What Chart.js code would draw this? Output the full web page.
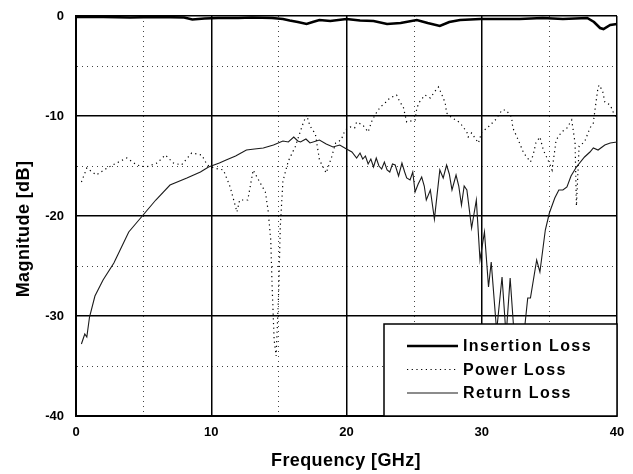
<!DOCTYPE html>
<html lang="en">
<head>
    <meta charset="UTF-8">
    <title>Magnitude vs Frequency</title>
    <script src="https://cdn.jsdelivr.net/npm/chart.js"></script>
    <style>
        html, body { margin: 0; padding: 0; background: #fff; }
        #wrap { width: 633px; height: 474px; }
    </style>
</head>
<body>
    <div id="wrap"><canvas id="magChart" width="633" height="474"></canvas></div>

    <script>
        // === 데이터 ===
        const seriesNames = ["Insertion Loss", "Power Loss", "Return Loss"];

        const insFreq = [0, 2, 4, 6, 8, 8.6, 9.5, 10.5, 12, 13, 14.5, 15.3, 15.8, 16.4, 17.05, 17.5, 18.0, 18.8,
            20.0, 21.0, 22.0, 23.0, 24.0, 25.2, 26.0, 26.9, 27.6, 28.4, 29.9, 31.0, 32.8, 34.5, 36.0, 37.8, 38.3, 38.75,
            39.0, 39.5, 40];
        const insLoss = [-0.1, -0.1, -0.15, -0.1, -0.15, -0.35, -0.25, -0.2, -0.2, -0.15, -0.2, -0.3, -0.45, -0.6, -0.8, -0.6, -0.4, -0.5,
            -0.3, -0.45, -0.5, -0.8, -0.7, -0.4, -0.7, -1.0, -0.6, -0.4, -0.3, -0.3, -0.3, -0.2, -0.3, -0.2, -0.6, -1.2,
            -1.3, -0.9, -0.8];

        const pwrFreq = [0.4, 0.8, 1.5, 2.3, 3.0, 3.75, 4.5, 5.2, 6.0, 6.6, 7.2, 7.8, 8.55, 9.3, 9.7, 10.2, 10.9, 11.4,
            11.9, 12.1, 12.7, 13.1, 13.5, 14.0, 14.2, 14.4, 14.5, 14.65, 14.8, 15.0, 15.1, 15.3, 15.7, 16.2, 16.8, 17.05,
            17.3, 17.7, 18.0, 18.5, 18.9, 19.2, 19.6, 19.9, 20.3, 20.6, 20.75, 21.2, 21.6, 21.9, 22.2, 22.5, 22.85, 23.2,
            23.7, 23.95, 24.2, 24.45, 25.07, 25.2, 25.4, 25.8, 26.2, 26.5, 26.8, 27.0, 27.3, 27.4, 27.8, 28.1, 28.4, 28.9,
            29.0, 29.25, 29.5, 29.75, 30.0, 30.4, 31.0, 31.5, 31.8, 32.2, 32.3, 32.7, 33.1, 33.6, 33.8, 34.0, 34.3, 34.55,
            35.0, 35.2, 35.5, 35.9, 36.3, 36.65, 36.9, 37.0, 37.2, 37.6, 38.0, 38.25, 38.4, 38.6, 38.7, 38.95, 39.1, 39.5,
            39.75, 40.0];
        const pwrLoss = [-16.6, -15.2, -15.9, -15.2, -14.7, -14.2, -14.9, -15.1, -14.7, -13.9, -14.7, -14.9, -13.7, -13.9, -14.9, -15.2, -15.4, -17.1,
            -19.6, -18.4, -18.4, -15.4, -16.4, -17.6, -19.4, -22.4, -27.0, -32.4, -34.0, -27.0, -21.2, -16.5, -14.5, -13.1, -10.7, -9.9,
            -11.0, -11.8, -14.4, -15.7, -14.1, -12.7, -12.4, -11.4, -11.1, -11.2, -10.6, -10.9, -11.6, -10.4, -9.7, -9.1, -8.7, -8.2,
            -7.9, -8.6, -9.1, -10.6, -10.4, -9.2, -8.6, -7.9, -8.2, -7.6, -7.1, -7.7, -8.7, -9.7, -10.2, -10.4, -10.7, -11.6,
            -12.1, -11.7, -12.2, -12.7, -11.6, -11.2, -10.4, -9.4, -9.4, -10.1, -11.2, -12.4, -13.7, -14.6, -13.9, -12.7, -12.1, -13.4,
            -14.7, -15.4, -12.4, -11.6, -11.2, -10.4, -12.7, -19.0, -13.0, -12.6, -11.2, -10.7, -9.1, -7.1, -6.9, -7.6, -8.6, -8.9,
            -9.7, -10.2];

        const retFreq = [0.4, 0.65, 0.8, 1.0, 1.4, 2.0, 2.8, 3.9, 4.9, 5.9, 6.95, 8.2, 9.2, 9.8, 10.6, 11.1, 11.8, 12.6,
            13.2, 13.85, 14.6, 15.3, 15.7, 16.1, 16.4, 16.6, 17.0, 17.3, 18.0, 18.5, 19.0, 19.5, 20.0, 20.4, 20.75, 21.0, 21.2,
            21.4, 21.6, 21.8, 22.0, 22.2, 22.4, 22.6, 22.8, 23.0, 23.2, 23.4, 23.6, 23.85, 24.1, 24.3, 24.45, 24.7, 24.9, 25.07,
            25.3, 25.56, 25.75, 25.9, 26.2, 26.5, 26.9, 27.15, 27.4, 27.6, 27.8, 28.1, 28.3, 28.5, 28.7, 28.9, 29.25, 29.6,
            29.87, 30.2, 30.5, 30.7, 31.1, 31.5, 31.8, 32.1, 32.4, 32.8, 33.2, 33.4, 33.6, 34.06, 34.3, 34.7, 35.0, 35.4,
            35.7, 36.0, 36.3, 36.6, 37.0, 37.6, 38.0, 38.25, 38.6, 39.1, 39.5, 40.0];
        const retLoss = [-32.8, -31.8, -32.1, -30.1, -28.0, -26.4, -24.7, -21.6, -20.0, -18.4, -16.9, -16.2, -15.6, -15.1, -14.7, -14.4, -14.0, -13.4,
            -13.3, -13.2, -12.9, -12.5, -12.6, -12.1, -12.5, -12.6, -12.3, -12.7, -12.4, -12.8, -13.1, -12.9, -13.3, -13.6, -14.2, -13.7, -14.3,
            -14.0, -14.8, -14.3, -15.1, -14.2, -15.0, -15.3, -14.6, -15.4, -15.6, -14.8, -14.9, -16.0, -14.7, -15.6, -16.2, -16.4, -15.6, -17.6,
            -16.8, -16.1, -17.0, -18.4, -17.4, -20.3, -15.4, -16.2, -14.9, -15.8, -17.4, -15.9, -17.0, -18.9, -17.0, -17.4, -21.2, -18.4,
            -24.4, -21.6, -27.1, -24.6, -31.5, -26.1, -32.0, -26.2, -32.0, -34.0, -30.8, -28.2,
            -28.2, -24.4, -25.6, -21.4, -19.7, -18.2, -17.4, -17.4, -17.1, -16.0, -15.1, -14.1, -13.6, -13.2, -13.4, -12.9, -12.7, -12.6];

        // 축 눈금
        const xTicks = [0, 10, 20, 30, 40];
        const yTicks = [0, -10, -20, -30, -40];

        const FONT = "'Liberation Sans', Arial, sans-serif";
        const toPoints = (xs, ys) => xs.map((x, i) => ({ x: x, y: ys[i] }));

        // 범례와 축 제목을 직접 그리는 플러그인
        const extras = {
            id: "extras",
            afterDraw(chart) {
                const ctx = chart.ctx;
                const ds = chart.data.datasets;
                ctx.save();

                // 범례 박스
                const bx = 384, by = 324, bw = 233, bh = 92;
                ctx.fillStyle = "#fff";
                ctx.fillRect(bx, by, bw, bh);
                ctx.strokeStyle = "#000";
                ctx.lineWidth = 1.5;
                ctx.strokeRect(bx, by, bw, bh);

                ctx.font = "bold 16px " + FONT;
                ctx.letterSpacing = "1.4px";
                ctx.textBaseline = "middle";
                ctx.textAlign = "left";
                ds.forEach((d, i) => {
                    const y = 346 + i * 23.5;
                    ctx.beginPath();
                    ctx.setLineDash(d.borderDash || []);
                    ctx.lineWidth = d.borderWidth;
                    ctx.strokeStyle = d.borderColor;
                    ctx.moveTo(407, y);
                    ctx.lineTo(458, y);
                    ctx.stroke();
                    ctx.setLineDash([]);
                    ctx.fillStyle = "#000";
                    ctx.fillText(d.label, 463, y + 1);
                });

                // 축 제목
                ctx.font = "bold 18px " + FONT;
                ctx.letterSpacing = "0.4px";
                ctx.textAlign = "center";
                ctx.fillText("Frequency [GHz]", 346, 461);
                ctx.translate(24, 229);
                ctx.rotate(-Math.PI / 2);
                ctx.fillText("Magnitude [dB]", 0, 0);
                ctx.restore();
            }
        };

        const gridColor = c => (c.tick && c.tick.value % 10 !== 0) ? "#444" : "#000";
        const gridWidth = c => (c.tick && c.tick.value % 10 !== 0) ? 1 : 1.5;
        const gridDash = c => (c.tick && c.tick.value % 10 !== 0) ? [1, 4] : [];

        new Chart(document.getElementById("magChart"), {
            type: "line",
            data: {
                datasets: [{
                    label: seriesNames[0],
                    data: toPoints(insFreq, insLoss),
                    borderColor: "#000",
                    borderWidth: 2.6,
                    pointRadius: 0,
                    tension: 0
                }, {
                    label: seriesNames[1],
                    data: toPoints(pwrFreq, pwrLoss),
                    borderColor: "#000",
                    borderWidth: 1.2,
                    borderDash: [1.2, 3.5],
                    pointRadius: 0,
                    tension: 0
                }, {
                    label: seriesNames[2],
                    data: toPoints(retFreq, retLoss),
                    borderColor: "#1a1a1a",
                    borderWidth: 1.1,
                    pointRadius: 0,
                    tension: 0
                }]
            },
            options: {
                responsive: false,
                animation: false,
                layout: { padding: { top: 16, right: 16, left: 0, bottom: 0 } },
                plugins: { legend: { display: false }, tooltip: { enabled: false } },
                scales: {
                    x: {
                        type: "linear",
                        min: 0,
                        max: 40,
                        afterFit: s => { s.height = 58; s.paddingLeft = 0; s.paddingRight = 0; },
                        ticks: {
                            stepSize: 5,
                            padding: 9,
                            color: "#000",
                            maxRotation: 0,
                            font: { family: FONT, size: 13, weight: "bold" },
                            callback: v => xTicks.includes(v) ? v : ""
                        },
                        grid: { color: gridColor, lineWidth: gridWidth, drawTicks: false },
                        border: { color: "#000", width: 2, dash: gridDash }
                    },
                    y: {
                        min: -40,
                        max: 0,
                        afterFit: s => { s.width = 76; s.paddingTop = 0; s.paddingBottom = 0; },
                        ticks: {
                            stepSize: 5,
                            padding: 12,
                            color: "#000",
                            font: { family: FONT, size: 13, weight: "bold" },
                            callback: v => yTicks.includes(v) ? v : ""
                        },
                        grid: { color: gridColor, lineWidth: gridWidth, drawTicks: false },
                        border: { color: "#000", width: 2, dash: gridDash }
                    }
                }
            },
            plugins: [extras]
        });
    </script>
</body>
</html>
